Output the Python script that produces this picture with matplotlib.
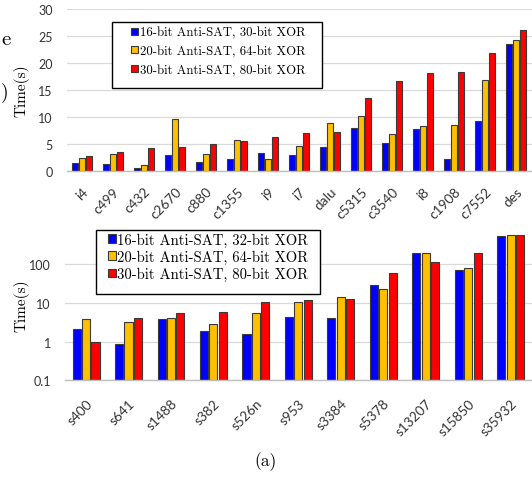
import matplotlib
matplotlib.use("Agg")
import matplotlib.pyplot as plt
from matplotlib.patches import Rectangle
import numpy as np

# ---------------- data ----------------
top_categories = ["i4", "c499", "c432", "c2670", "c880", "c1355", "i9", "i7",
                  "dalu", "c5315", "c3540", "i8", "c1908", "c7552", "des"]
top_16_30 = [1.4, 1.35, 0.6, 3.0, 1.7, 2.2, 3.25, 2.9, 4.5, 8.0, 5.1, 7.8, 2.2, 9.25, 23.6]
top_20_64 = [2.5, 3.1, 1.2, 9.55, 3.2, 5.7, 2.3, 4.7, 8.8, 10.2, 6.9, 8.4, 8.55, 16.9, 24.2]
top_30_80 = [2.8, 3.5, 4.25, 4.4, 5.05, 5.55, 6.3, 7.0, 7.15, 13.6, 16.6, 18.2, 18.4, 21.9, 26.1]
top_labels = ["16-bit Anti-SAT, 30-bit XOR", "20-bit Anti-SAT, 64-bit XOR",
              "30-bit Anti-SAT, 80-bit XOR"]
top_yticks = [0, 5, 10, 15, 20, 25, 30]

bot_categories = ["s400", "s641", "s1488", "s382", "s526n", "s953", "s3384",
                  "s5378", "s13207", "s15850", "s35932"]
bot_16_32 = [2.03, 0.78, 3.67, 1.8, 1.48, 4.3, 3.9, 28.2, 189, 71.6, 519]
bot_20_64 = [3.75, 3.13, 3.97, 2.67, 5.25, 10.3, 13.6, 22.7, 189, 79, 561]
bot_30_80 = [0.85, 4.05, 5.46, 5.68, 10.3, 11.8, 12.3, 59.8, 110, 193, 561]
bot_labels = ["16-bit Anti-SAT, 32-bit XOR", "20-bit Anti-SAT, 64-bit XOR",
              "30-bit Anti-SAT, 80-bit XOR"]
bot_yticks = [0.1, 1, 10, 100]
bot_yticklabels = ["0.1", "1", "10", "100"]

colors = ["#0000FF", "#FFC000", "#FF0000"]
edge = "#3a3a3a"
serif = "cmr10"
sans = "Lato"
tick_color = "#333333"

W, H = 532, 481
fig = plt.figure(figsize=(W / 100, H / 100), dpi=100)


def style_axes(ax, xpad):
    for s in ["top", "right", "left"]:
        ax.spines[s].set_visible(False)
    ax.spines["bottom"].set_color("#BFBFBF")
    ax.spines["bottom"].set_linewidth(1.0)
    ax.yaxis.grid(True, color="#D9D9D9", linewidth=0.9)
    ax.set_axisbelow(True)
    ax.tick_params(axis="both", length=0, colors=tick_color)
    ax.tick_params(axis="y", pad=10, labelsize=9)
    ax.tick_params(axis="x", pad=xpad, labelsize=9.8)
    for t in ax.get_xticklabels() + ax.get_yticklabels():
        t.set_fontfamily(sans)


def frame_box(ax, x0, y0, x1, y1):
    # legend frame in figure pixel coordinates (top-left origin)
    r = Rectangle((x0 / W, 1 - y1 / H), (x1 - x0) / W, (y1 - y0) / H,
                  transform=fig.transFigure, facecolor="white", edgecolor="black",
                  linewidth=1.0, zorder=4.5, clip_on=False)
    ax.add_patch(r)


# ---------------- top chart ----------------
ax1 = fig.add_axes([66.5 / W, 1 - 172 / H, 465 / W, 162 / H])
x = np.arange(len(top_categories))
w = 0.195
step = 0.225
for i, (vals, c, lab) in enumerate(zip([top_16_30, top_20_64, top_30_80], colors, top_labels)):
    ax1.bar(x + (i - 1) * step, vals, width=w, color=c, edgecolor=edge, linewidth=0.8, label=lab)
ax1.set_xlim(-0.5, len(top_categories) - 0.5)
ax1.set_ylim(0, 30)
ax1.set_yticks(top_yticks)
ax1.set_xticks(x)
ax1.set_xticklabels(top_categories, rotation=45, ha="right", rotation_mode="anchor")
style_axes(ax1, 10)
ax1.set_ylabel("Time(s)", fontfamily=serif, fontsize=11, va="center")
ax1.yaxis.set_label_coords((21 - 66.5) / 465, 0.5)
frame_box(ax1, 112.3, 22.7, 321.7, 88.7)
fs1 = 9.2
leg1 = ax1.legend(loc="upper left", bbox_to_anchor=(131 / W, 1 - 27.5 / H),
                  bbox_transform=fig.transFigure, prop={"family": serif, "size": fs1},
                  frameon=False, handlelength=0.53, handleheight=0.5, handletextpad=0.15,
                  labelspacing=0.5, borderpad=0, borderaxespad=0)

# ---------------- bottom chart ----------------
ax2 = fig.add_axes([64.8 / W, 1 - 381.3 / H, 467.2 / W, 151.3 / H])
ax2.set_yscale("log")
xb = np.arange(len(bot_categories))
wb = 0.19
stepb = 0.222
for i, (vals, c, lab) in enumerate(zip([bot_16_32, bot_20_64, bot_30_80], colors, bot_labels)):
    ax2.bar(xb + (i - 1) * stepb, vals, width=wb, color=c, edgecolor=edge, linewidth=0.8,
            label=lab, bottom=0.1)
ax2.set_xlim(-0.5, len(bot_categories) - 0.5)
ax2.set_ylim(0.1, 800)
ax2.set_yticks(bot_yticks)
ax2.set_yticklabels(bot_yticklabels)
ax2.yaxis.set_minor_locator(matplotlib.ticker.NullLocator())
ax2.set_xticks(xb)
ax2.set_xticklabels(bot_categories, rotation=45, ha="right", rotation_mode="anchor")
style_axes(ax2, 12)
ax2.set_ylabel("Time(s)", fontfamily=serif, fontsize=11, va="center")
ax2.yaxis.set_label_coords((21 - 64.8) / 467.2, 0.5)
frame_box(ax2, 95.7, 231, 320, 295)
fs2 = 10.6
leg2 = ax2.legend(loc="upper left", bbox_to_anchor=(108.3 / W, 1 - 233.5 / H),
                  bbox_transform=fig.transFigure, prop={"family": serif, "size": fs2},
                  frameon=False, handlelength=0.52, handleheight=0.5, handletextpad=0.1,
                  labelspacing=0.2, borderpad=0, borderaxespad=0)

# ---------------- caption and neighbouring text fragments ----------------
fig.text(266 / W, 1 - 462 / H, "(a)", ha="center", va="center", fontfamily=serif, fontsize=12.5)
fig.text(1 / W, 1 - 40 / H, "e", ha="left", va="center", fontfamily=serif, fontsize=15)
fig.text(1 / W, 1 - 93 / H, ")", ha="left", va="center", fontfamily=serif, fontsize=14)

fig.savefig("out.png", dpi=100)
